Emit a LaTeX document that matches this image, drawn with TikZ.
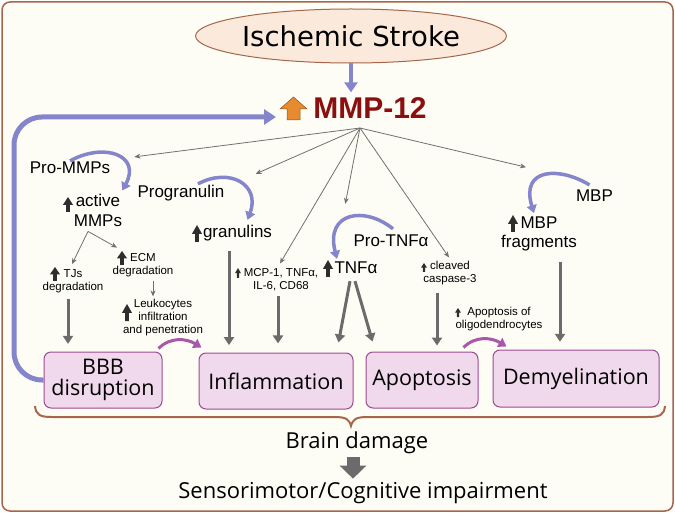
\documentclass[tikz,border=0pt]{standalone}
\usepackage{fontspec}
\setmainfont{Liberation Sans}
\newfontfamily\boxfont{Open Sans}
\newfontfamily\titlefont{DejaVu Sans}
\usetikzlibrary{arrows.meta, shapes.geometric, positioning}
\definecolor{paper}{HTML}{FEFDF5}
\definecolor{frame}{HTML}{A5664C}
\definecolor{peach}{HTML}{FBEADB}
\definecolor{lilac}{HTML}{8585CC}
\definecolor{mmpred}{HTML}{8A1010}
\definecolor{orangeup}{HTML}{E88A2E}
\definecolor{linegray}{HTML}{707070}
\definecolor{fatgray}{HTML}{6B6B6B}
\definecolor{boxfill}{HTML}{F0D9EC}
\definecolor{boxline}{HTML}{9C4B90}
\definecolor{plum}{HTML}{A758A9}
\definecolor{upblack}{HTML}{2E2E2E}
\tikzset{
every node/.style={inner sep=1pt}, % tight text boxes
cause/.style={ellipse, draw=frame, fill=peach, line width=1pt, minimum width=306pt, minimum height=54pt, font=\titlefont\fontsize{27.5}{30}\selectfont}, % the top event
mmptext/.style={inner sep=0pt, text=mmpred, font=\bfseries\fontsize{30}{30}\selectfont}, % the central enzyme
lbl/.style={align=center, font=\fontsize{17}{20}\selectfont}, % medium labels
note/.style={align=center, font=\fontsize{11.5}{13}\selectfont}, % small labels
effect/.style={draw=boxline, fill=boxfill, line width=1pt, rounded corners=7pt, inner sep=3pt, align=center, font=\boxfont\fontsize{21.5}{21}\selectfont}, % outcome boxes
outcome/.style={font=\boxfont\fontsize{22}{22}\selectfont}, % text at the bottom
thinarr/.style={draw=linegray, line width=0.8pt, -{Stealth[length=6pt,width=5pt]}}, % thin grey arrows
fatarr/.style={draw=fatgray, line width=3pt, -{Triangle[length=8pt,width=10pt]}}, % thick grey arrows
hook/.style={draw=lilac, line width=3.5pt, -{Triangle[length=8pt,width=10pt]}}, % conversion hooks
bluearr/.style={draw=lilac, line width=4pt, -{Triangle[length=10pt,width=13pt]}},
loopline/.style={draw=lilac, line width=5pt, rounded corners=28pt, -{Triangle[length=12pt,width=15pt]}}, % feedback loop
swing/.style={draw=plum, line width=3pt, -{Triangle[length=8pt,width=10pt]}}, % curved magenta arrows
fatdown/.style={draw=fatgray, line width=13pt, -{Triangle[length=13pt,width=26pt]}},
brace/.style={draw=frame, line width=2pt},
uparr/.pic={\fill[upblack] (-0.18,0) -- (-0.18,-0.48) -- (-0.5,-0.48) -- (0,-1) -- (0.5,-0.48) -- (0.18,-0.48) -- (0.18,0) -- cycle;}, % block arrow, scaled where used
}

\begin{document}
\begin{tikzpicture}[x=1pt, y=-1pt]
\useasboundingbox (0,0) rectangle (675,513);
\draw[frame, fill=paper, line width=1.5pt, rounded corners=8pt] (2,2) rectangle (673,511);

\node[cause] (stroke) at (351,36) {Ischemic Stroke};
\node[mmptext] (mmp) at (370,108) {MMP-12};
\filldraw[fill=orangeup, draw=orangeup!60!black, line width=0.5pt] (287,120) -- (287,109) -- (280,109) -- (293.5,97) -- (307,109) -- (300,109) -- (300,120) -- cycle;
\coordinate (hub) at (360,128);
\coordinate (mmpin) at (276,117);

% what MMP-12 acts on
\node[lbl] (promm) at (70,168) {Pro-MMPs};
\node[lbl] (actmm) at (98,210) {active\\MMPs};
\node[lbl] (progr) at (181,193) {Progranulin};
\node[lbl] (granul) at (237.5,233) {granulins};
\node[note] (mcp) at (281,280) {MCP-1, TNFα,\\IL-6, CD68};
\node[lbl] (protnf) at (391,241) {Pro-TNFα};
\node[lbl] (tnf) at (356,268) {TNFα};
\node[note] (casp) at (450,273.5) {cleaved\\caspase-3};
\node[lbl] (mbp) at (594.5,196) {MBP};
\node[lbl, font=\fontsize{17}{19}\selectfont] (mbpfr) at (539,233.5) {MBP\\fragments};
\node[note] (tjs) at (73,281) {TJs\\degradation};
\node[note] (ecm) at (143,265.5) {ECM\\degradation};
\node[note] (leuk) at (163,318) {Leukocytes\\infiltration\\and penetration};
\node[note] (apoli) at (499,319.5) {Apoptosis of\\oligodendrocytes};

% increase marks
\pic[xscale=10, yscale=15] at (68,212) {uparr};
\pic[xscale=10, yscale=14] at (55,281) {uparr};
\pic[xscale=10, yscale=14] at (122,265) {uparr};
\pic[xscale=10, yscale=17] at (127,321) {uparr};
\pic[xscale=10, yscale=17] at (197,242) {uparr};
\pic[xscale=6, yscale=10] at (238,278) {uparr};
\pic[xscale=10, yscale=17] at (328,277) {uparr};
\pic[xscale=6, yscale=9] at (424,272) {uparr};
\pic[xscale=6, yscale=9] at (458,317) {uparr};
\pic[xscale=10, yscale=17] at (513,232) {uparr};

% outcomes
\node[effect, minimum width=118pt, minimum height=56pt] (bbb) at (103,380) {BBB\\disruption};
\node[effect, minimum width=154pt, minimum height=56pt] (infl) at (276,381) {Inflammation};
\node[effect, minimum width=112pt, minimum height=56pt] (apop) at (422,380) {Apoptosis};
\node[effect, minimum width=166pt, minimum height=57pt] (demy) at (576,378.5) {Demyelination};
\node[outcome, anchor=base] (brain) at (357,448) {Brain damage};
\node[outcome, anchor=base] (sens) at (363,498) {Sensorimotor/Cognitive impairment};

\draw[bluearr] (stroke.south) -- ([yshift=5pt]stroke.south |- mmp.north);
\draw[loopline] (bbb.west) -- (14,380) -- (14,117) -- (mmpin);

\draw[thinarr] (hub) -- ([shift={(23,-4)}]promm.north east);
\draw[thinarr] (hub) -- ([shift={(30,-10)}]progr.north east);
\draw[thinarr] (hub) -- ([shift={(-1,-4)}]mcp.north);
\draw[thinarr] (hub) -- ([shift={(-7,-30)}]protnf.north west);
\draw[thinarr] (hub) -- ([shift={(-1,-3)}]casp.north);
\draw[thinarr] (hub) -- ([shift={(-13,-48)}]mbpfr.north);
\coordinate (fork) at ([shift={(-10,4)}]actmm.south);
\draw[thinarr] (fork) -- ([shift={(-26,-5)}]ecm.north);
\draw[thinarr] (fork) -- ([shift={(-1,-4)}]tjs.north);
\draw[thinarr] ([shift={(10,3)}]ecm.south) -- ([shift={(-10,-2)}]leuk.north);

\draw[hook] (promm.north) .. controls +(35,-19) and +(19,-35) .. ([shift={(-1,-2)}]actmm.north east);
\draw[hook] ([xshift=17pt]progr.north) .. controls +(32,-17) and +(13,-35) .. ([shift={(10,-4)}]granul.north);
\draw[hook] ([shift={(2,-5)}]protnf.north) .. controls +(-28,-23) and +(-12,-47) .. ([shift={(-19,-2)}]tnf.north);
\draw[hook] ([shift={(-5,-4)}]mbp.north) .. controls +(-29,-18) and +(-14,-46) .. ([shift={(-5,-2)}]mbpfr.north);

\draw[fatarr] ([shift={(-5,5)}]tjs.south) -- ++(0,45);
\draw[fatarr] ([shift={(-8.5,9)}]granul.south) -- ++(0,94);
\draw[fatarr] ([shift={(-3,4)}]mcp.south) -- ++(0,47);
\draw[fatarr] ([shift={(-6,6)}]tnf.south) -- ([shift={(-15,-10)}]infl.north east);
\draw[fatarr] ([shift={(-1,6)}]tnf.south) -- ([shift={(7,-10)}]apop.north west);
\draw[fatarr] ([shift={(-13,6)}]casp.south) -- ++(0,53);
\draw[fatarr] ([shift={(21,10)}]mbpfr.south) -- ++(0,80);

\draw[swing] ([shift={(-4,-3)}]bbb.north east) .. controls +(12,-12) and +(-15,-9) .. ([shift={(3,-5)}]infl.north west);
\draw[swing] ([shift={(-15,-4)}]apop.north east) .. controls +(12,-12) and +(-15,-9) .. ([shift={(14,-3)}]demy.north west);

\draw[brace] (35,406) .. controls (36,415) and (40,417) .. (52,417) -- (334,417) .. controls (346,417) and (349,419) .. (351,426) .. controls (353,419) and (356,417) .. (368,417) -- (648,417) .. controls (660,417) and (664,415) .. (665,406);
\draw[fatdown, shorten <=3pt, shorten >=2pt] ([xshift=-4pt]brain.south) -- ([xshift=-4pt]brain.south |- sens.north);
\end{tikzpicture}
\end{document}
